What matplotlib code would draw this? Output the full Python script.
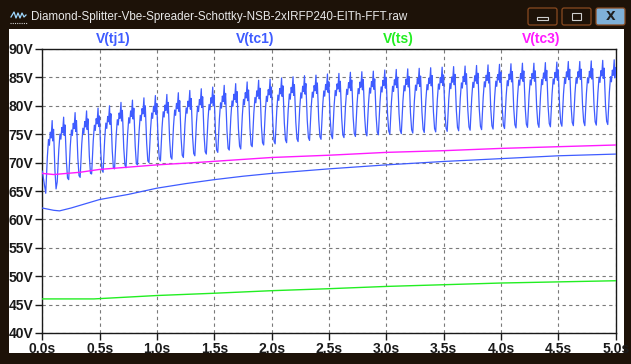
"""LTspice-style waveform window: junction / case / sink temperatures."""

import numpy as np
import matplotlib
matplotlib.use("Agg")
import matplotlib.pyplot as plt
from matplotlib.patches import Rectangle, FancyBboxPatch

# ---- data ------------------------------------------------------------------
trace_names = ["V(tj1)", "V(tc1)", "V(ts)", "V(tc3)"]
x_ticks = [0.0, 0.5, 1.0, 1.5, 2.0, 2.5, 3.0, 3.5, 4.0, 4.5, 5.0]
x_tick_labels = ["0.0s", "0.5s", "1.0s", "1.5s", "2.0s", "2.5s",
                 "3.0s", "3.5s", "4.0s", "4.5s", "5.0s"]
y_ticks = [40, 45, 50, 55, 60, 65, 70, 75, 80, 85, 90]
y_tick_labels = ["40V", "45V", "50V", "55V", "60V", "65V",
                 "70V", "75V", "80V", "85V", "90V"]

# V(tj1): one trough / peak per 0.1 s ripple cycle
tj1_start = 68.5
tj1_troughs = [64.6, 66.6, 67.0, 67.4, 68.0, 68.3, 68.9, 69.1, 69.6, 70.0,
               70.3, 70.6, 70.9, 71.2, 71.5, 71.8, 72.2, 72.4, 72.8, 73.1,
               73.3, 73.5, 73.7, 73.9, 74.1, 74.2, 74.4, 74.6, 74.7, 74.9,
               75.0, 75.1, 75.2, 75.3, 75.4, 75.5, 75.6, 75.7, 75.8, 75.9,
               76.0, 76.1, 76.2, 76.2, 76.3, 76.4, 76.5, 76.5, 76.6, 76.7]
tj1_peaks = [77.4, 78.0, 78.8, 79.1, 79.6, 80.0, 80.6, 81.0, 81.4, 81.8,
             82.0, 82.3, 82.7, 83.0, 83.3, 83.6, 83.9, 84.2, 84.5, 84.7,
             84.9, 85.1, 85.3, 85.4, 85.6, 85.7, 85.9, 86.0, 86.1, 86.3,
             86.4, 86.5, 86.6, 86.7, 86.8, 86.9, 87.0, 87.1, 87.2, 87.3,
             87.4, 87.5, 87.5, 87.6, 87.7, 87.8, 87.8, 87.9, 88.0, 88.1]

tc1_t = [0, 0.1, 0.15, 0.25, 0.5, 0.75, 1.0, 1.25, 1.5, 1.75, 2.0,
         2.5, 3.0, 3.5, 4.0, 4.5, 5.0]
tc1_v = [62.0, 61.6, 61.5, 62.0, 63.5, 64.4, 65.5, 66.3, 67.0, 67.6, 68.1,
         68.9, 69.6, 70.2, 70.7, 71.2, 71.5]

ts_t = [0, 0.45, 1.0, 1.5, 2.0, 2.5, 3.0, 3.5, 4.0, 4.5, 5.0]
ts_v = [46.0, 46.0, 46.6, 47.0, 47.45, 47.8, 48.2, 48.5, 48.8, 49.0, 49.2]

tc3_t = [0, 0.1, 0.33, 0.5, 1.0, 1.37, 2.0, 2.5, 3.0, 3.5, 4.0, 4.5, 5.0]
tc3_v = [68.1, 67.9, 68.3, 68.8, 69.6, 70.05, 70.9, 71.3, 71.8, 72.1,
         72.5, 72.8, 73.1]

# ---- style --------------------------------------------------------------
BLUE = "#3f5cff"
GREEN = "#22ee22"
MAGENTA = "#ff1aff"
FRAME = "#1d1208"
TXT = "#1a1a1a"
period = 0.1
first_trough = 0.03
# shape of one ripple cycle: (phase, fraction of trough->peak swing)
cycle_shape = [(0.0, 0.0), (0.14, 0.5), (0.24, 0.74), (0.32, 0.66),
               (0.4, 0.84), (0.47, 0.76), (0.56, 1.0), (0.61, 0.72),
               (0.68, 0.88), (0.8, 0.32), (0.9, 0.06)]

t_tj1 = [0.0]
v_tj1 = [tj1_start]
for k, (lo, hi) in enumerate(zip(tj1_troughs, tj1_peaks)):
    t0 = first_trough + k * period
    for ph, fr in cycle_shape:
        t = t0 + ph * period
        if t > 5.0:
            break
        t_tj1.append(t)
        v_tj1.append(lo + fr * (hi - lo))

W, H = 631, 364
fig = plt.figure(figsize=(W / 100, H / 100), dpi=100)
fig.patch.set_facecolor(FRAME)

# window chrome drawn in a pixel-coordinate background axes (y down)
bg = fig.add_axes([0, 0, 1, 1], zorder=-5)
bg.set_xlim(0, W)
bg.set_ylim(H, 0)
bg.set_axis_off()
bg.add_patch(Rectangle((9, 29), 615, 324, facecolor="white", edgecolor="none"))
bg.text(31, 17, "Diamond-Splitter-Vbe-Spreader-Schottky-NSB-2xIRFP240-EITh-FFT.raw",
        color="#e8e8e8", fontsize=8.4, family="Liberation Sans", va="center", ha="left")
bg.plot([11, 14, 16, 18, 20, 22, 24, 26], [17, 12, 18, 13, 18, 13, 17, 15],
        color="#9fd8ff", lw=0.9)
bg.plot([10, 27], [23, 23], color="#cfcfcf", lw=0.8, ls=(0, (1, 1)))
for x0, fc in [(528, FRAME), (562, FRAME), (596, "#7fb0d8")]:
    bg.add_patch(FancyBboxPatch((x0, 8), 29, 17, boxstyle="round,pad=0,rounding_size=2",
                                facecolor=fc, edgecolor="#8a4a20", lw=0.9))
bg.add_patch(Rectangle((537, 17), 11, 3, facecolor="none", edgecolor="#cfcfcf", lw=0.8))
bg.add_patch(Rectangle((572, 13), 9, 7, facecolor="none", edgecolor="#cfcfcf", lw=0.8))
bg.text(610.5, 16.5, "X", color="#202020", fontsize=9, weight="bold",
        ha="center", va="center")

# trace names above the plot
name_x = [113, 255.5, 398, 541]
name_col = [BLUE, BLUE, GREEN, MAGENTA]
for name, xp, c in zip(trace_names, name_x, name_col):
    bg.text(xp, 39, name, color=c, fontsize=10, weight="bold",
            ha="center", va="center", family="Liberation Sans")

# plot area
ax = fig.add_axes([42.3 / W, 1 - 333 / H, (615.8 - 42.3) / W, 284 / H], zorder=1)
ax.set_facecolor("white")
ax.plot(t_tj1, v_tj1, color=BLUE, lw=0.9, zorder=3)
ax.plot(tc1_t, tc1_v, color=BLUE, lw=0.9, zorder=3)
ax.plot(ts_t, ts_v, color=GREEN, lw=1.0, zorder=3)
ax.plot(tc3_t, tc3_v, color=MAGENTA, lw=1.0, zorder=3)

ax.set_xlim(0, 5)
ax.set_ylim(40, 90)
ax.set_xticks(x_ticks)
ax.set_xticklabels(x_tick_labels)
ax.set_yticks(y_ticks)
ax.set_yticklabels(y_tick_labels)
ax.grid(True, color="#7a7a7a", ls=(0, (3, 3)), lw=0.8)
for s in ax.spines.values():
    s.set_color(TXT)
    s.set_linewidth(1.0)
ax.tick_params(axis="both", colors=TXT, length=5, width=1.0, pad=1.5,
               labelsize=10)
for lbl in ax.get_xticklabels() + ax.get_yticklabels():
    lbl.set_fontweight("bold")
    lbl.set_family("Liberation Sans")

fig.savefig("out.png", dpi=100, facecolor=fig.get_facecolor())
